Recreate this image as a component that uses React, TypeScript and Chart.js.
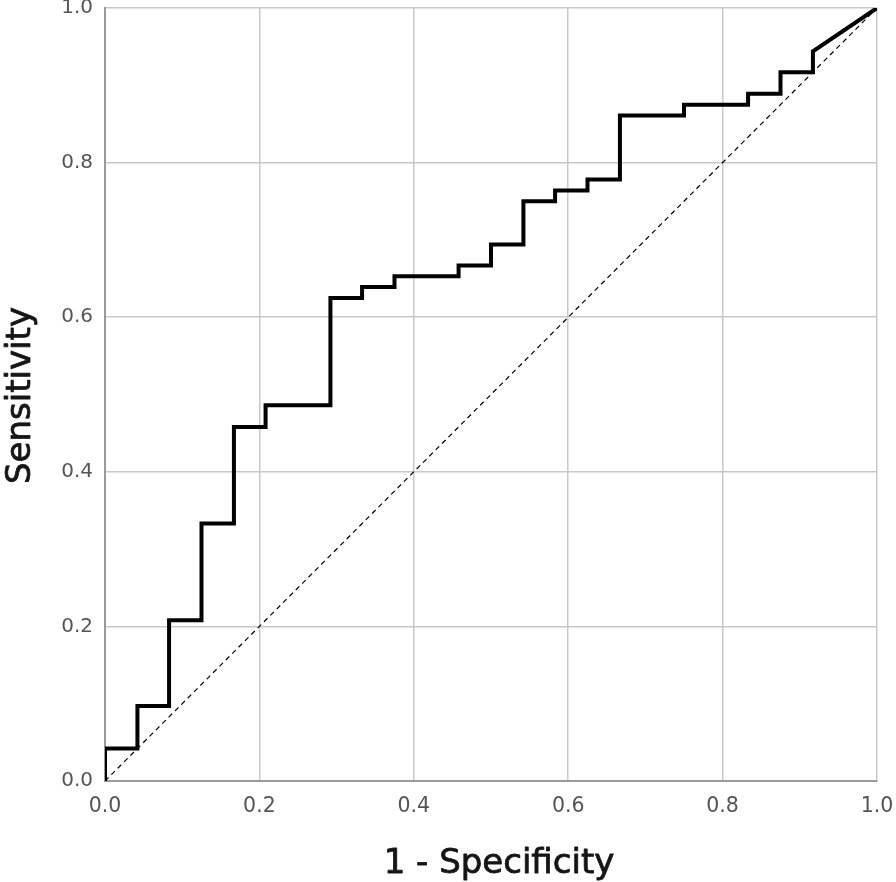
import React, { useEffect, useRef } from "react";
import { Chart, registerables } from "chart.js";

Chart.register(...registerables);

// ROC curve vertices: 1 - Specificity (FPR) and Sensitivity (TPR)
const fpr: number[] = [
  0, 0, 0.042, 0.042, 0.083, 0.083, 0.125, 0.125, 0.167, 0.167, 0.208, 0.208,
  0.292, 0.292, 0.333, 0.333, 0.375, 0.375, 0.458, 0.458, 0.5, 0.5, 0.542, 0.542,
  0.583, 0.583, 0.625, 0.625, 0.667, 0.667, 0.75, 0.75, 0.833, 0.833, 0.875, 0.875,
  0.917, 0.917, 1.0,
];
const tpr: number[] = [
  0, 0.042, 0.042, 0.097, 0.097, 0.208, 0.208, 0.333, 0.333, 0.458, 0.458, 0.486,
  0.486, 0.625, 0.625, 0.639, 0.639, 0.653, 0.653, 0.667, 0.667, 0.694, 0.694, 0.75,
  0.75, 0.764, 0.764, 0.778, 0.778, 0.861, 0.861, 0.875, 0.875, 0.889, 0.889, 0.917,
  0.917, 0.944, 1.0,
];
// Reference (chance) line
const refX: number[] = [0, 1];
const refY: number[] = [0, 1];

const xTitle = "1 - Specificity";
const yTitle = "Sensitivity";

const TITLE_FONT = "34px 'DejaVu Sans', sans-serif";
const TITLE_COLOR = "#151515";

// Draws the axis titles as canvas text, slightly emboldened
const axisTitlePlugin = {
  id: "axisTitles",
  afterDraw(chart: any) {
    const { ctx, chartArea } = chart;
    ctx.save();
    ctx.font = TITLE_FONT;
    ctx.fillStyle = TITLE_COLOR;
    ctx.strokeStyle = TITLE_COLOR;
    ctx.lineWidth = 0.8;
    ctx.lineJoin = "round";
    ctx.textAlign = "center";
    ctx.textBaseline = "alphabetic";
    // x title
    const cx = (chartArea.left + chartArea.right) / 2 + 8;
    const by = chartArea.bottom + 92;
    ctx.fillText(xTitle, cx, by);
    ctx.strokeText(xTitle, cx, by);
    // y title
    const cy = (chartArea.top + chartArea.bottom) / 2 + 1;
    ctx.translate(chartArea.left - 75, cy);
    ctx.rotate(-Math.PI / 2);
    ctx.fillText(yTitle, 0, 0);
    ctx.strokeText(yTitle, 0, 0);
    ctx.restore();
  },
};

export default function App() {
  const canvasRef = useRef<HTMLCanvasElement | null>(null);

  useEffect(() => {
    document.body.style.margin = "0";
    const canvas = canvasRef.current;
    if (!canvas) return;
    const roc = fpr.map((x, i) => ({ x, y: tpr[i] }));
    const diag = refX.map((x, i) => ({ x, y: refY[i] }));
    const xTickFont = { family: "'DejaVu Sans', sans-serif", size: 20.5, lineHeight: 0.8 };
    const yTickFont = { family: "'DejaVu Sans', sans-serif", size: 20, lineHeight: 0.8 };
    const chart = new Chart(canvas, {
      type: "scatter",
      data: {
        datasets: [
          {
            data: roc,
            showLine: true,
            borderColor: "#000",
            borderWidth: 4,
            borderJoinStyle: "miter",
            borderCapStyle: "butt",
            pointRadius: 0,
            fill: false,
            order: 1,
          },
          {
            data: diag,
            showLine: true,
            borderColor: "#000",
            borderWidth: 1.2,
            borderDash: [5, 4],
            pointRadius: 0,
            fill: false,
            order: 2,
          },
        ],
      },
      options: {
        animation: false,
        responsive: false,
        maintainAspectRatio: false,
        layout: { padding: { top: 8, right: 19, left: 0, bottom: 0 } },
        plugins: { legend: { display: false }, tooltip: { enabled: false } },
        scales: {
          x: {
            type: "linear",
            min: 0,
            max: 1,
            afterFit: (s: any) => {
              s.height = 101;
            },
            ticks: {
              stepSize: 0.2,
              padding: 0,
              color: "#555",
              font: xTickFont,
              callback: (v: any) => Number(v).toFixed(1),
            },
            grid: {
              color: "#c8c8c8",
              lineWidth: 1.5,
              drawTicks: true,
              tickLength: 17,
              tickColor: "rgba(0,0,0,0)",
            },
            border: { color: "#9a9a9a", width: 2 },
            title: { display: false, text: xTitle },
          },
          y: {
            type: "linear",
            min: 0,
            max: 1,
            afterFit: (s: any) => {
              s.width = 105;
            },
            ticks: {
              stepSize: 0.2,
              padding: 0,
              color: "#555",
              font: yTickFont,
              callback: (v: any) => Number(v).toFixed(1),
            },
            grid: {
              color: "#c8c8c8",
              lineWidth: 1.5,
              drawTicks: true,
              tickLength: 12,
              tickColor: "rgba(0,0,0,0)",
            },
            border: { color: "#9a9a9a", width: 2 },
            title: { display: false, text: yTitle },
          },
        },
      },
      plugins: [axisTitlePlugin],
    });
    return () => chart.destroy();
  }, []);

  return (
    <div style={{ width: 896, height: 882 }}>
      <canvas ref={canvasRef} width={896} height={882} style={{ display: "block" }} />
    </div>
  );
}
